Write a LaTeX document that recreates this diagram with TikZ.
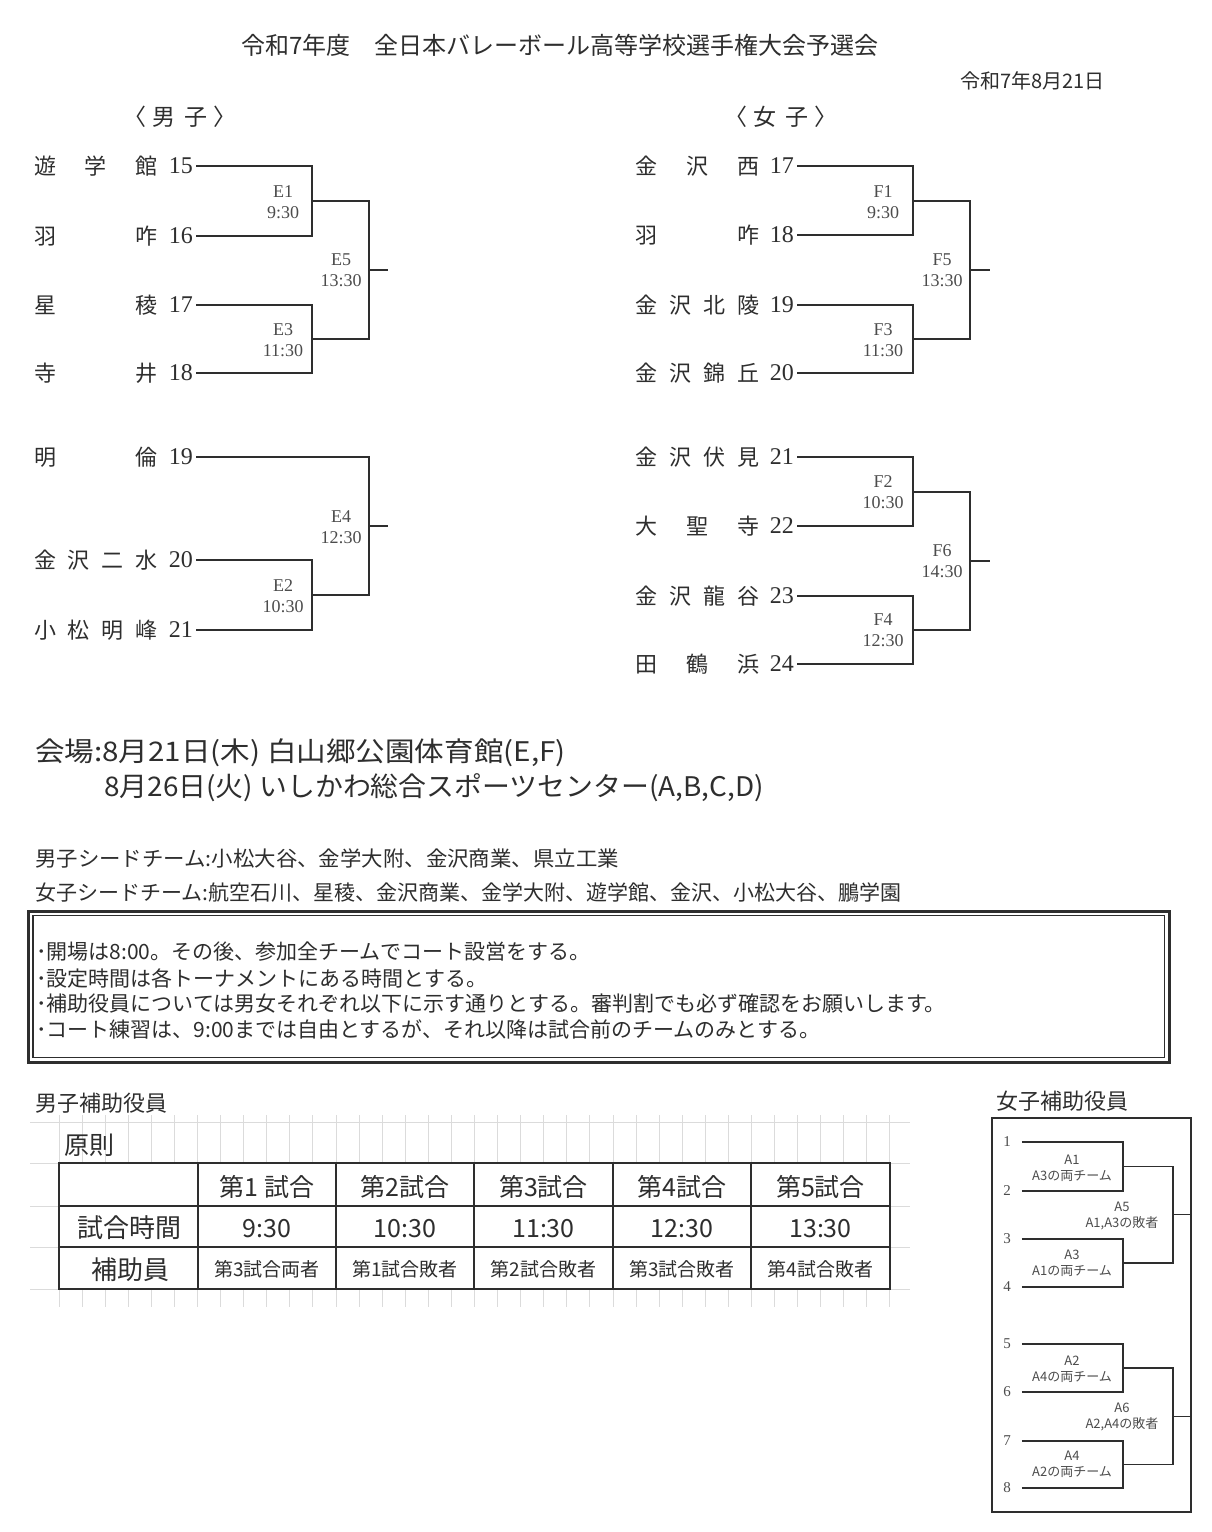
\documentclass[tikz,border=0pt]{standalone}
\usepackage{fontspec}
\usepackage{graphicx}
\setmainfont{Liberation Serif}
\newfontfamily\jp{Noto Sans CJK JP}
\newcommand\fsz[2]{\fontsize{#1pt}{#2pt}\selectfont}
\colorlet{ink}{black!82}
\colorlet{soft}{black!70}
\colorlet{gridc}{black!14}
\begin{document}
\begin{tikzpicture}[x=1pt,y=-1pt,
  tx/.style={inner sep=0pt,text=ink},
  jt/.style={tx,font={\jp\fsz{#1}{#1}}},
  tname/.style={tx,anchor=west,font={\jp\fsz{22}{22}}},
  tnum/.style={inner sep=3pt,text=ink,anchor=east,font={\fsz{24}{24}}},
  mlab/.style={inner sep=0pt,text=soft,align=center,font={\fsz{18}{21}}},
  br/.style={draw=ink,line width=2pt},
  hb/.style={draw=ink,line width=1.6pt},
  hnum/.style={inner sep=0pt,text=soft,font={\fsz{15}{15}}},
  hlab/.style={inner sep=0pt,text=soft,align=center,font={\jp\fsz{13}{16}}},
  gridl/.style={draw=gridc,line width=0.8pt},
  tbl/.style={draw=ink,line width=1.4pt}
]
\useasboundingbox[fill=white] (0,0) rectangle (1211,1532);

% ---------- headings ----------
\node[jt=24] (title) at (560,45) {令和7年度　全日本バレーボール高等学校選手権大会予選会};
\node[jt=20,anchor=east] (date) at (1105,81) {令和7年8月21日};
\node[jt=23] (boys) at (180,117) {〈\hspace{0.25em}男\hspace{0.4em}子\hspace{0.25em}〉};
\node[jt=23] (girls) at (781,117) {〈\hspace{0.25em}女\hspace{0.4em}子\hspace{0.25em}〉};

% ---------- boys bracket ----------
\node[tname] (m1) at (34,166) {\makebox[123pt][s]{遊\hfill 学\hfill 館}};
\node[tname] (m2) at (34,236) {\makebox[123pt][s]{羽\hfill 咋}};
\node[tname] (m3) at (34,305) {\makebox[123pt][s]{星\hfill 稜}};
\node[tname] (m4) at (34,373) {\makebox[123pt][s]{寺\hfill 井}};
\node[tname] (m5) at (34,457) {\makebox[123pt][s]{明\hfill 倫}};
\node[tname] (m6) at (34,560) {\makebox[123pt][s]{金\hfill 沢\hfill 二\hfill 水}};
\node[tname] (m7) at (34,630) {\makebox[123pt][s]{小\hfill 松\hfill 明\hfill 峰}};
\node[tnum] (m1n) at (196,166) {15};
\node[tnum] (m2n) at (196,236) {16};
\node[tnum] (m3n) at (196,305) {17};
\node[tnum] (m4n) at (196,373) {18};
\node[tnum] (m5n) at (196,457) {19};
\node[tnum] (m6n) at (196,560) {20};
\node[tnum] (m7n) at (196,630) {21};

\coordinate (E1) at (312,201);
\coordinate (E3) at (312,339);
\coordinate (E5) at (369,270);
\coordinate (E5o) at (388,270);
\coordinate (E2) at (312,595);
\coordinate (E4) at (369,526);
\coordinate (E4o) at (388,526);
\draw[br] (m1n.east) -| (E1);
\draw[br] (m2n.east) -| (E1);
\draw[br] (m3n.east) -| (E3);
\draw[br] (m4n.east) -| (E3);
\draw[br] (E1) -| (E5);
\draw[br] (E3) -| (E5);
\draw[br] (E5) -- (E5o);
\draw[br] (m6n.east) -| (E2);
\draw[br] (m7n.east) -| (E2);
\draw[br] (m5n.east) -| (E4);
\draw[br] (E2) -| (E4);
\draw[br] (E4) -- (E4o);

\node[mlab] (E1l) at (283,202) {E1\\9:30};
\node[mlab] (E3l) at (283,340.5) {E3\\11:30};
\node[mlab] (E5l) at (341,270.5) {E5\\13:30};
\node[mlab] (E2l) at (283,596) {E2\\10:30};
\node[mlab] (E4l) at (341,527) {E4\\12:30};

% ---------- girls bracket ----------
\node[tname] (f1) at (635,166) {\makebox[124pt][s]{金\hfill 沢\hfill 西}};
\node[tname] (f2) at (635,235) {\makebox[124pt][s]{羽\hfill 咋}};
\node[tname] (f3) at (635,305) {\makebox[124pt][s]{金\hfill 沢\hfill 北\hfill 陵}};
\node[tname] (f4) at (635,373) {\makebox[124pt][s]{金\hfill 沢\hfill 錦\hfill 丘}};
\node[tname] (f5) at (635,457) {\makebox[124pt][s]{金\hfill 沢\hfill 伏\hfill 見}};
\node[tname] (f6) at (635,526) {\makebox[124pt][s]{大\hfill 聖\hfill 寺}};
\node[tname] (f7) at (635,596) {\makebox[124pt][s]{金\hfill 沢\hfill 龍\hfill 谷}};
\node[tname] (f8) at (635,664) {\makebox[124pt][s]{田\hfill 鶴\hfill 浜}};
\node[tnum] (f1n) at (797,166) {17};
\node[tnum] (f2n) at (797,235) {18};
\node[tnum] (f3n) at (797,305) {19};
\node[tnum] (f4n) at (797,373) {20};
\node[tnum] (f5n) at (797,457) {21};
\node[tnum] (f6n) at (797,526) {22};
\node[tnum] (f7n) at (797,596) {23};
\node[tnum] (f8n) at (797,664) {24};

\coordinate (F1) at (913,200.5);
\coordinate (F3) at (913,339);
\coordinate (F5) at (970,270);
\coordinate (F5o) at (990,270);
\coordinate (F2) at (913,491.5);
\coordinate (F4) at (913,630);
\coordinate (F6) at (970,561);
\coordinate (F6o) at (990,561);
\draw[br] (f1n.east) -| (F1);
\draw[br] (f2n.east) -| (F1);
\draw[br] (f3n.east) -| (F3);
\draw[br] (f4n.east) -| (F3);
\draw[br] (F1) -| (F5);
\draw[br] (F3) -| (F5);
\draw[br] (F5) -- (F5o);
\draw[br] (f5n.east) -| (F2);
\draw[br] (f6n.east) -| (F2);
\draw[br] (f7n.east) -| (F4);
\draw[br] (f8n.east) -| (F4);
\draw[br] (F2) -| (F6);
\draw[br] (F4) -| (F6);
\draw[br] (F6) -- (F6o);

\node[mlab] (F1l) at (883,202) {F1\\9:30};
\node[mlab] (F3l) at (883,340.5) {F3\\11:30};
\node[mlab] (F5l) at (942,270.5) {F5\\13:30};
\node[mlab] (F2l) at (883,492) {F2\\10:30};
\node[mlab] (F6l) at (942,561.5) {F6\\14:30};
\node[mlab] (F4l) at (883,630) {F4\\12:30};

% ---------- venue & seeds ----------
\node[jt=27,anchor=west] (v1) at (35,753) {\scalebox{1.095}[1]{会場:8月21日(木) 白山郷公園体育館(E,F)}};
\node[jt=27,anchor=west] (v2) at (104,788) {\scalebox{1.033}[1]{8月26日(火) いしかわ総合スポーツセンター(A,B,C,D)}};
\node[jt=21,anchor=west] (s1) at (35,858) {\scalebox{1.02}[1]{男子シードチーム:小松大谷、金学大附、金沢商業、県立工業}};
\node[jt=21,anchor=west] (s2) at (35,893) {女子シードチーム:航空石川、星稜、金沢商業、金学大附、遊学館、金沢、小松大谷、鵬学園};

% ---------- notice box ----------
\draw[ink,line width=3pt] (28.5,911) rectangle (1169,1062);
\draw[ink,line width=1.2pt] (33,915.5) rectangle (1164.5,1057.5);
\node[jt=21,anchor=west] (n1) at (36,952) {･開場は8:00。その後、参加全チームでコート設営をする。};
\node[jt=21,anchor=west] (n2) at (36,978) {･設定時間は各トーナメントにある時間とする。};
\node[jt=21,anchor=west] (n3) at (36,1004) {･補助役員については男女それぞれ以下に示す通りとする。審判割でも必ず確認をお願いします。};
\node[jt=21,anchor=west] (n4) at (36,1029) {･コート練習は、9:00までは自由とするが、それ以降は試合前のチームのみとする。};

% ---------- boys helpers ----------
\node[jt=22,anchor=west] (bh) at (35,1103) {男子補助役員};
\foreach \k in {0,...,36} {
  \draw[gridl] ({59+\k*23.08},1115) -- ({59+\k*23.08},1163);
  \draw[gridl] ({59+\k*23.08},1289) -- ({59+\k*23.08},1307);
}
\foreach \yy in {1122,1163,1206,1247,1289} \draw[gridl] (30,\yy) -- (910,\yy);
\draw[tbl] (59,1163) rectangle (890,1289);
\draw[tbl] (59,1206) -- (890,1206);
\draw[tbl] (59,1247) -- (890,1247);
\foreach \xx in {198,336,474,613,751} \draw[tbl] (\xx,1163) -- (\xx,1289);
\node[jt=25,anchor=west] (gen) at (64,1145) {原則};
\node[jt=25] (h1c) at (267,1187) {第1 試合};
\node[jt=25] (h2c) at (405,1187) {第2試合};
\node[jt=25] (h3c) at (543.5,1187) {第3試合};
\node[jt=25] (h4c) at (682,1187) {第4試合};
\node[jt=25] (h5c) at (820.5,1187) {第5試合};
\node[jt=26] (rt) at (129,1228) {試合時間};
\node[jt=26] (rh) at (130,1270) {補助員};
\node[jt=25] (t1) at (267,1229) {9:30};
\node[jt=25] (t2) at (405,1229) {10:30};
\node[jt=25] (t3) at (543.5,1229) {11:30};
\node[jt=25] (t4) at (682,1229) {12:30};
\node[jt=25] (t5) at (820.5,1229) {13:30};
\node[jt=19] (a1) at (267,1269) {第3試合両者};
\node[jt=19] (a2) at (405,1269) {第1試合敗者};
\node[jt=19] (a3) at (543.5,1269) {第2試合敗者};
\node[jt=19] (a4) at (682,1269) {第3試合敗者};
\node[jt=19] (a5) at (820.5,1269) {第4試合敗者};

% ---------- girls helpers ----------
\node[jt=22,anchor=west] (gh) at (996,1101) {女子補助役員};
\draw[hb] (992,1118) rectangle (1191,1512);
\node[hnum] (g1) at (1007,1142) {1};
\node[hnum] (g2) at (1007,1191) {2};
\node[hnum] (g3) at (1007,1239) {3};
\node[hnum] (g4) at (1007,1287) {4};
\node[hnum] (g5) at (1007,1344) {5};
\node[hnum] (g6) at (1007,1392) {6};
\node[hnum] (g7) at (1007,1441) {7};
\node[hnum] (g8) at (1007,1488) {8};
\coordinate (A1) at (1123,1166.5);
\coordinate (A3) at (1123,1263);
\coordinate (A5) at (1173,1214.5);
\coordinate (A5o) at (1191,1214.5);
\coordinate (A2) at (1123,1368);
\coordinate (A4) at (1123,1464.5);
\coordinate (A6) at (1173,1416.5);
\coordinate (A6o) at (1191,1416.5);
\draw[hb] (g1.east) ++(11,0) -| (A1);
\draw[hb] (g2.east) ++(11,0) -| (A1);
\draw[hb] (g3.east) ++(11,0) -| (A3);
\draw[hb] (g4.east) ++(11,0) -| (A3);
\draw[hb] (A1) -| (A5);
\draw[hb] (A3) -| (A5);
\draw[hb] (A5) -- (A5o);
\draw[hb] (g5.east) ++(11,0) -| (A2);
\draw[hb] (g6.east) ++(11,0) -| (A2);
\draw[hb] (g7.east) ++(11,0) -| (A4);
\draw[hb] (g8.east) ++(11,0) -| (A4);
\draw[hb] (A2) -| (A6);
\draw[hb] (A4) -| (A6);
\draw[hb] (A6) -- (A6o);
\node[hlab] (A1l) at (1072,1168) {A1\\A3の両チーム};
\node[hlab] (A3l) at (1072,1263) {A3\\A1の両チーム};
\node[hlab] (A5l) at (1122,1215.5) {A5\\A1,A3の敗者};
\node[hlab] (A2l) at (1072,1369.5) {A2\\A4の両チーム};
\node[hlab] (A4l) at (1072,1464.5) {A4\\A2の両チーム};
\node[hlab] (A6l) at (1122,1416.5) {A6\\A2,A4の敗者};
\end{tikzpicture}
\end{document}
